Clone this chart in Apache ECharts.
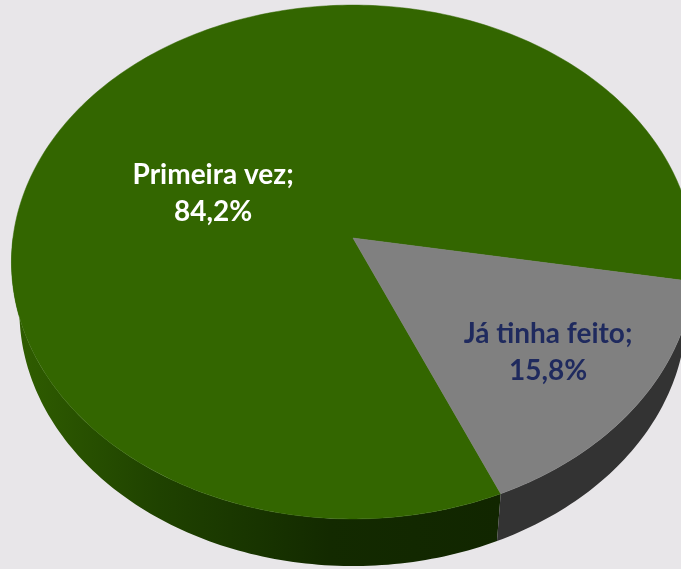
<!DOCTYPE html>
<html>
<head>
<meta charset="utf-8">
<style>
  html, body { margin: 0; padding: 0; background: #E8E6E9; }
  #chart { width: 681px; height: 569px; }
</style>
<script src="https://cdn.jsdelivr.net/npm/echarts@6/dist/echarts.min.js"></script>
</head>
<body>
<div id="chart"></div>
<script>
// Slice data
const categories = ['Primeira vez', 'Já tinha feito'];
const values = [84.2, 15.8];

// Slice colours: top face, side wall
const topColors = ['#336600', '#808080'];
const sideColors = [
  [[0, '#305E00'], [0.3, '#1F4200'], [0.65, '#132A00'], [1, '#112600']],
  [[0, '#333333'], [1, '#333333']]
];
const labelColors = ['#FFFFFF', '#1F2A5E'];

// Perspective setup for the tilted disc (radius = 1 in model units)
const view = {
  cx: 353, cy: 238,          // projected disc centre, px
  focal: 2411,               // focal length, px
  dist: 7.09,                // camera distance, disc radii
  elev: 48.5 * Math.PI / 180,
  thick: 0.224,              // disc thickness, disc radii
  startAngle: -66.6          // where the first slice begins (deg, counter-clockwise from +x), going clockwise
};
// Label anchors in disc space (angle in deg, radius fraction)
const labelAnchors = [{ angle: 156.8, r: 0.455 }, { angle: null, r: 0.70 }];

const sE = Math.sin(view.elev), cE = Math.cos(view.elev);
function project(phiDeg, r, y) {
  const a = phiDeg * Math.PI / 180;
  const x = r * Math.cos(a), z = r * Math.sin(a);
  const w = view.dist + z * cE - y * sE;
  const v = y * cE + z * sE;
  return [view.cx + view.focal * x / w, view.cy - view.focal * v / w];
}

const total = values.reduce((s, v) => s + v, 0);
const spans = [];
let acc = view.startAngle;
values.forEach(v => {
  const sweep = v / total * 360;
  spans.push([acc, acc - sweep]);   // clockwise
  acc -= sweep;
});

function arc(a0, a1, y, step) {
  const pts = [];
  const n = Math.max(2, Math.ceil(Math.abs(a1 - a0) / step));
  for (let i = 0; i <= n; i++) pts.push(project(a0 + (a1 - a0) * i / n, 1, y));
  return pts;
}

function renderItem(params, api) {
  const i = params.dataIndex;
  const [a0, a1] = spans[i];          // a0 > a1
  const children = [];

  // Front side wall: portions of the slice lying in the near half (angles -180..0 mod 360)
  const ranges = [];
  for (let k = -2; k <= 1; k++) {
    const lo = -180 + 360 * k, hi = 0 + 360 * k;
    const s = Math.min(a0, hi), e = Math.max(a1, lo);
    if (s > e) ranges.push([s, e]);
  }
  ranges.forEach(([s, e]) => {
    const top = arc(s, e, 0, 1);
    const bot = arc(e, s, -view.thick, 1);
    children.push({
      type: 'polygon',
      z2: 1,
      shape: { points: top.concat(bot) },
      style: {
        fill: new echarts.graphic.LinearGradient(13, 0, 500, 0,
          sideColors[i].map(([o, c]) => ({ offset: o, color: c })), true),
        stroke: null
      }
    });
  });

  // Top face
  const face = [project(0, 0, 0)].concat(arc(a0, a1, 0, 1));
  children.push({
    type: 'polygon',
    z2: 5,
    shape: { points: face },
    style: { fill: topColors[i], stroke: topColors[i], lineWidth: 0.5 }
  });

  // Label
  const anc = labelAnchors[i];
  const ang = anc.angle !== null ? anc.angle : (a0 + a1) / 2;
  const p = project(ang, anc.r, 0);
  const val = api.value(0);
  children.push({
    type: 'text',
    z2: 10,
    x: p[0], y: p[1],
    style: {
      text: categories[i] + ';\n' + val.toFixed(1).replace('.', ',') + '%',
      fill: labelColors[i],
      font: 'bold 28px Lato, "Open Sans", sans-serif',
      align: 'center',
      verticalAlign: 'middle',
      lineHeight: 37
    }
  });

  return { type: 'group', children };
}

const chart = echarts.init(document.getElementById('chart'), null, { renderer: 'canvas' });
chart.setOption({
  backgroundColor: '#E8E6E9',
  animation: false,
  series: [{
    type: 'custom',
    coordinateSystem: 'none',
    renderItem,
    data: values.map((v, i) => ({ name: categories[i], value: [v] }))
  }]
});
</script>
</body>
</html>
